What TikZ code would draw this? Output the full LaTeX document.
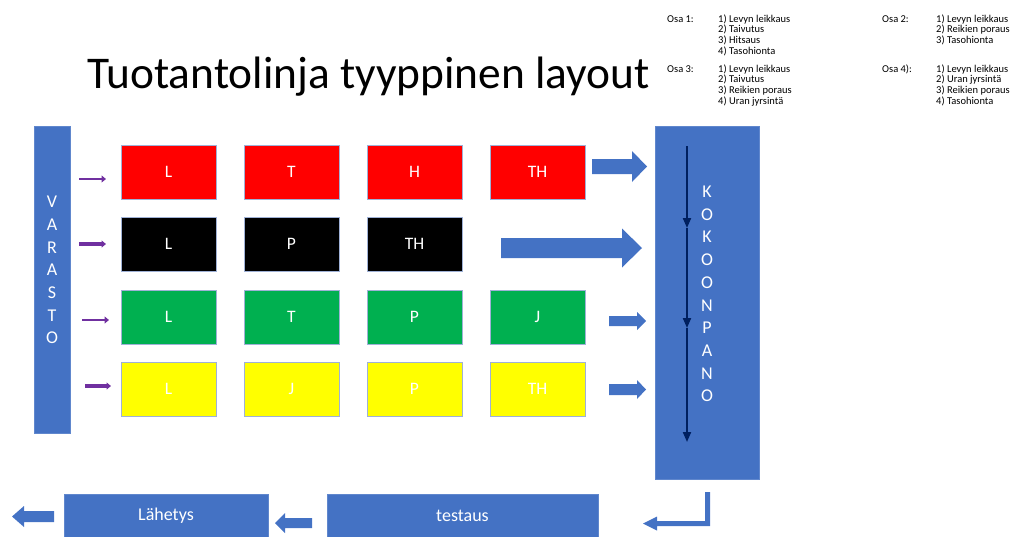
\documentclass[tikz,border=0pt]{standalone}
\usepackage{fontspec}
\setmainfont{Carlito}
\usetikzlibrary{arrows.meta}
\definecolor{pblue}{HTML}{4472C4}
\definecolor{pred}{HTML}{FF0000}
\definecolor{pgreen}{HTML}{00B050}
\definecolor{pyellow}{HTML}{FFFF00}
\definecolor{ppurple}{HTML}{7030A0}
\definecolor{pnavy}{HTML}{002060}
\definecolor{pedge}{HTML}{9FB1D6}
\newcommand\blockarr[6]{%
  \fill[pblue] (#1,#4-#5) -- (#2,#4-#5) -- (#2,#4-#6) -- (#3,#4) -- (#2,#4+#6) -- (#2,#4+#5) -- (#1,#4+#5) -- cycle;}
\newcommand\steplist[1]{\begin{tabular}[t]{@{}l@{}}#1\end{tabular}}
\begin{document}
\begin{tikzpicture}[x=1pt,y=-1pt,
  cell/.style={draw=pedge,line width=0.8pt,minimum width=95pt,minimum height=54pt,inner sep=0pt,text=white,font=\fontsize{17.5}{20}\selectfont},
  bluebar/.style={fill=pblue,draw=pblue!85!white,line width=0.6pt,inner sep=0pt,text=white},
  vtext/.style={text=white,align=center,inner sep=0pt,font=\fontsize{18}{22.7}\selectfont},
  feed/.style={draw=ppurple,line width=2.8pt,-{Triangle[width=7pt,length=4.5pt]}},
  flow/.style={draw=pnavy,line width=2pt,-{Triangle[width=8pt,length=10pt]}},
  small/.style={anchor=base west,inner sep=0pt,font=\fontsize{10.5}{9.8}\selectfont}
]
\useasboundingbox (0,0) rectangle (1014,536);
% title
\node[anchor=base west,inner sep=0pt,font=\fontsize{45.4}{52}\selectfont] (title) at (87,88) {Tuotantolinja tyyppinen layout};
% legend
\node[small] (o1) at (667,22.3) {Osa 1:};
\node[small] (o1l) at (718,22.3) {\steplist{1) Levyn leikkaus\\2) Taivutus\\3) Hitsaus\\4) Tasohionta}};
\node[small] (o2) at (882,22.3) {Osa 2:};
\node[small] (o2l) at (936,22.3) {\steplist{1) Levyn leikkaus\\2) Reikien poraus\\3) Tasohionta}};
\node[small] (o3) at (667,72.3) {Osa 3:};
\node[small] (o3l) at (718,72.3) {\steplist{1) Levyn leikkaus\\2) Taivutus\\3) Reikien poraus\\4) Uran jyrsintä}};
\node[small] (o4) at (882,72.3) {Osa 4):};
\node[small] (o4l) at (936,72.3) {\steplist{1) Levyn leikkaus\\2) Uran jyrsintä\\3) Reikien poraus\\4) Tasohionta}};
% varasto
\node[bluebar,minimum width=36pt,minimum height=307pt] (varasto) at (52,279.5) {};
\node[vtext] (vartext) at (52,270) {V\\A\\R\\A\\S\\T\\O};
% kokoonpano
\node[bluebar,minimum width=104pt,minimum height=353pt] (kok) at (707,302.5) {};
\node[vtext] (koktext) at (707,294) {K\\O\\K\\O\\O\\N\\P\\A\\N\\O};
% rows
\node[cell,fill=pred] (r1a) at (168.5,172) {L};
\node[cell,fill=pred] (r1b) at (291.5,172) {T};
\node[cell,fill=pred] (r1c) at (414.5,172) {H};
\node[cell,fill=pred] (r1d) at (537.5,172) {TH};
\node[cell,fill=black] (r2a) at (168.5,244) {L};
\node[cell,fill=black] (r2b) at (291.5,244) {P};
\node[cell,fill=black] (r2c) at (414.5,244) {TH};
\node[cell,fill=pgreen] (r3a) at (168.5,317) {L};
\node[cell,fill=pgreen] (r3b) at (291.5,317) {T};
\node[cell,fill=pgreen] (r3c) at (414.5,317) {P};
\node[cell,fill=pgreen] (r3d) at (537.5,317) {J};
\node[cell,fill=pyellow] (r4a) at (168.5,389) {L};
\node[cell,fill=pyellow] (r4b) at (291.5,389) {J};
\node[cell,fill=pyellow] (r4c) at (414.5,389) {P};
\node[cell,fill=pyellow] (r4d) at (537.5,389) {TH};
% purple feed arrows
\coordinate (f1s) at (79,179); \coordinate (f1e) at (106,179);
\coordinate (f2s) at (79,244); \coordinate (f2e) at (106,244);
\coordinate (f3s) at (82,320); \coordinate (f3e) at (109,320);
\coordinate (f4s) at (85,386); \coordinate (f4e) at (111,386);
\draw[feed,line width=2.2pt] (f1s) -- (f1e);
\draw[feed,line width=3.4pt] (f2s) -- (f2e);
\draw[feed] (f3s) -- (f3e);
\draw[feed,line width=3.2pt] (f4s) -- (f4e);
% block arrows to assembly
\blockarr{592}{632}{647}{166.5}{7.5}{15.5}
\blockarr{501}{622}{642}{248}{10}{19.5}
\blockarr{609}{637}{646}{321}{5}{9}
\blockarr{609}{637}{646}{389.5}{5.5}{9.5}
% navy flow inside assembly
\coordinate (k0) at (687,146);
\coordinate (k1) at (687,228);
\coordinate (k2) at (687,328);
\coordinate (k3) at (687,442);
\draw[flow] (k0) -- (k1);
\draw[flow] (k1) -- (k2);
\draw[flow] (k2) -- (k3);
% bottom row
\node[bluebar,minimum width=271pt,minimum height=44pt,font=\fontsize{18}{22}\selectfont] (testaus) at (462.5,516) {testaus};
\node[bluebar,minimum width=204pt,minimum height=44pt,font=\fontsize{18}{22}\selectfont] (lahetys) at (166,516) {Lähetys};
\fill[pblue] (705,492) -- (710,492) -- (710,526) -- (657,526) -- (657,530.5) -- (643,523.5) -- (657,516.5) -- (657,521) -- (705,521) -- cycle;
\blockarr{312}{285}{275}{523}{5}{10}
\blockarr{54}{24}{12}{516.5}{5.5}{10.5}
\end{tikzpicture}
\end{document}
